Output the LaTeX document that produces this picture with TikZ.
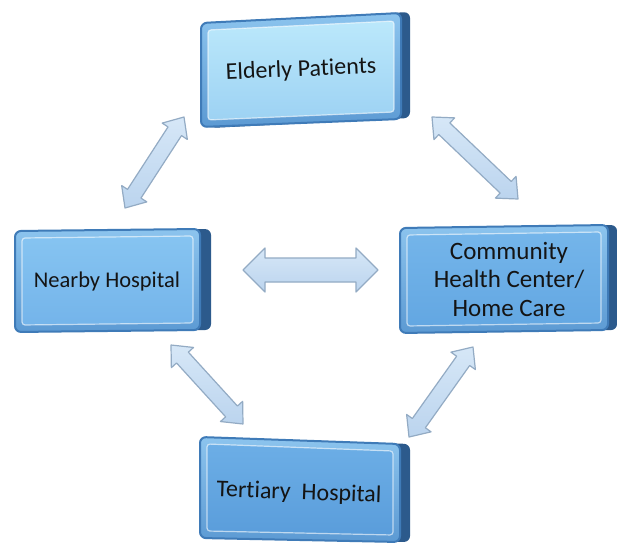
\documentclass[tikz,border=0pt]{standalone}
\usepackage{fontspec}
\setmainfont{Carlito}[Ligatures=NoCommon]
\usetikzlibrary{calc}

\definecolor{frameedge}{HTML}{3F7BB8}
\definecolor{framelite}{HTML}{8CC4EE}
\definecolor{framedark}{HTML}{5C9AD3}
\definecolor{sidedark}{HTML}{2C5A8C}
\definecolor{epTop}{HTML}{BBE8FB}
\definecolor{epBot}{HTML}{9DD2F3}
\definecolor{nhTop}{HTML}{86C4F1}
\definecolor{nhBot}{HTML}{74B4EA}
\definecolor{chTop}{HTML}{74B5EA}
\definecolor{chBot}{HTML}{63A7E2}
\definecolor{thTop}{HTML}{6CAEE6}
\definecolor{thBot}{HTML}{5A9DDB}
\definecolor{arrowtop}{HTML}{D6E7F7}
\definecolor{arrowbot}{HTML}{BBD4EE}
\definecolor{arrowedge}{HTML}{93ABC4}
\definecolor{labelink}{HTML}{141414}

\tikzset{
  sideband/.style={fill=sidedark, rounded corners=6bp},
  outerframe/.style={draw=frameedge, line width=2bp, rounded corners=6bp,
    top color=framelite, bottom color=framedark},
  innerface/.style={draw=white, draw opacity=0.6, line width=1.2bp, rounded corners=3bp},
  boxtext/.style={font=\fontsize{24bp}{28bp}\selectfont, text=labelink,
    align=center, inner sep=0pt},
  arrowbody/.style={draw=arrowedge, line width=1.2bp, line join=round,
    top color=arrowtop, bottom color=arrowbot},
}

% double-headed block arrow between two named points
\newcommand\arrHead{17bp}
\newcommand\arrWide{15bp}
\newcommand\arrShaft{8bp}
\newcommand\blockarrow[2]{%
  \coordinate (ha) at ($(#1)!\arrHead!(#2)$);
  \coordinate (hb) at ($(#2)!\arrHead!(#1)$);
  \path[arrowbody]
    (#1) -- ($(ha)!\arrWide!90:(#2)$) -- ($(ha)!\arrShaft!90:(#2)$)
    -- ($(hb)!\arrShaft!-90:(#1)$) -- ($(hb)!\arrWide!-90:(#1)$) -- (#2)
    -- ($(hb)!\arrWide!90:(#1)$) -- ($(hb)!\arrShaft!90:(#1)$)
    -- ($(ha)!\arrShaft!-90:(#2)$) -- ($(ha)!\arrWide!-90:(#2)$) -- cycle;}

\begin{document}
\begin{tikzpicture}[x=1bp, y=-1bp]
\useasboundingbox[fill=white] (0,0) rectangle (617,546);

% ---- Elderly Patients panel
\path[sideband] (210,22) -- (410,12) -- (410,118) -- (210,128) -- cycle;
\path[outerframe] (201,23) -- (401,13) -- (401,119) -- (201,127) -- cycle;
\path[innerface, top color=epTop, bottom color=epBot]
  (208,30) -- (394,21) -- (394,112) -- (208,120) -- cycle;
\node[boxtext, rotate=2.5] (ep) at (301,70) {Elderly Patients};

% ---- Nearby Hospital panel
\path[sideband] (26,231) -- (211,229) -- (211,330) -- (26,332) -- cycle;
\path[outerframe] (15,231) -- (200,229) -- (200,330) -- (15,332) -- cycle;
\path[innerface, top color=nhTop, bottom color=nhBot]
  (22,238) -- (193,236) -- (193,323) -- (22,325) -- cycle;
\node[boxtext, font=\fontsize{22.5bp}{27bp}\selectfont] (nh) at (107,282) {Nearby Hospital};

% ---- Community Health Center panel
\path[sideband] (409,228) -- (617,225) -- (617,330) -- (409,333) -- cycle;
\path[outerframe] (400,228) -- (608,225) -- (608,330) -- (400,333) -- cycle;
\path[innerface, top color=chTop, bottom color=chBot]
  (407,235) -- (601,232) -- (601,323) -- (407,326) -- cycle;
\node[boxtext, font=\fontsize{25bp}{28.5bp}\selectfont] (ch) at (509,279)
  {Community\\Health Center/\\Home Care};

% ---- Tertiary Hospital panel
\path[sideband] (210,437) -- (410,444) -- (410,542) -- (210,538) -- cycle;
\path[outerframe] (200,437) -- (400,444) -- (400,542) -- (200,538) -- cycle;
\path[innerface, top color=thTop, bottom color=thBot]
  (207,444) -- (393,451) -- (393,535) -- (207,531) -- cycle;
\node[boxtext, rotate=-2] (th) at (299,493) {Tertiary\ \ Hospital};

% ---- arrow end points
\coordinate (nhUp)   at (125,208);
\coordinate (epLeft) at (184,117);
\coordinate (epRight) at (432,117);
\coordinate (chUp)   at (518,199);
\coordinate (nhSide) at (243,270);
\coordinate (chSide) at (378,270);
\coordinate (nhDown) at (171,345);
\coordinate (thLeft) at (243,424);
\coordinate (chDown) at (473,347);
\coordinate (thRight) at (409,437);

% ---- connectors
\blockarrow{nhUp}{epLeft}
\blockarrow{epRight}{chUp}
\blockarrow{nhDown}{thLeft}
\blockarrow{chDown}{thRight}
\renewcommand\arrHead{22bp}
\renewcommand\arrWide{22bp}
\renewcommand\arrShaft{12bp}
\blockarrow{nhSide}{chSide}
\end{tikzpicture}
\end{document}
